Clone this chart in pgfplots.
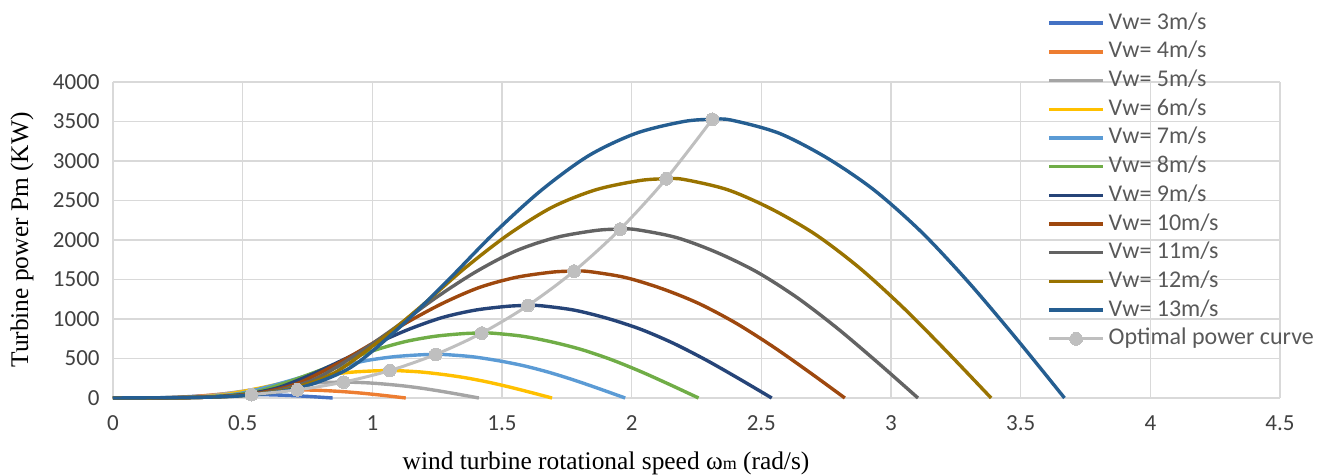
\documentclass[border=0pt]{standalone}
\usepackage{pgfplots}
\pgfplotsset{compat=1.18}
\usepackage{fontspec}
\setmainfont{Liberation Serif}
\newfontfamily\calibri{Carlito}
\definecolor{cA}{HTML}{4472C4}
\definecolor{cB}{HTML}{ED7D31}
\definecolor{cC}{HTML}{A5A5A5}
\definecolor{cD}{HTML}{FFC000}
\definecolor{cE}{HTML}{5B9BD5}
\definecolor{cF}{HTML}{70AD47}
\definecolor{cG}{HTML}{264478}
\definecolor{cH}{HTML}{9E480E}
\definecolor{cI}{HTML}{636363}
\definecolor{cJ}{HTML}{997300}
\definecolor{cK}{HTML}{255E91}
\definecolor{optgray}{HTML}{BFBFBF}
\definecolor{gridgray}{HTML}{D9D9D9}
\definecolor{tickgray}{HTML}{404040}
\definecolor{legendgray}{HTML}{595959}
\pgfplotsset{
  lineimage/.style={legend image code/.code={\draw[##1] (0pt,0pt) -- (27pt,0pt);}},
  optimage/.style={legend image code/.code={\draw[mark repeat=2,mark phase=2,##1] plot coordinates {(0pt,0pt) (13.5pt,0pt) (27pt,0pt)};}},
}
\begin{document}
\begin{tikzpicture}
\useasboundingbox (-56.5pt,-39pt) rectangle (605pt,199pt);
\begin{axis}[
 at={(0pt,0pt)}, anchor=south west,
 scale only axis, width=583.5pt, height=158pt,
 xmin=0, xmax=4.5, ymin=0, ymax=4000,
 xtick={0,0.5,1,1.5,2,2.5,3,3.5,4,4.5},
 ytick={0,500,1000,1500,2000,2500,3000,3500,4000},
 grid=major, grid style={draw=gridgray, line width=0.8pt},
 axis line style={draw=none},
 major tick length=0pt,
 clip=false,
 /pgf/number format/assume math mode=true,
 /pgf/number format/1000 sep={},
 ticklabel style={font=\calibri\fontsize{11.5}{13}\selectfont, text=tickgray},
 yticklabel style={inner xsep=0pt, xshift=-6.5pt},
 xticklabel style={inner ysep=0pt, yshift=-8.5pt},
 xlabel={wind turbine rotational speed ω{\fontsize{9}{10}\selectfont m} (rad/s)},
 ylabel={Turbine power Pm (KW)},
 label style={font=\fontsize{12.7}{14}\selectfont},
 xlabel style={at={(axis description cs:0.4225,-0.2247)}, anchor=base},
 ylabel style={at={(axis description cs:-0.0728,0.5)}, anchor=base},
 legend style={at={(axis description cs:0.8003,1.2329)}, anchor=north west,
   draw=none, fill=none, inner sep=0pt,
   font=\calibri\fontsize{12}{14}\selectfont, text=legendgray,
   nodes={inner sep=0pt, text height=8.5pt, text depth=2.5pt, inner ysep=1.675pt},
   /tikz/every odd column/.append style={column sep=2pt}},
 legend cell align=left,
 lineimage,
 every axis plot/.append style={line width=1.7pt, smooth, mark=none},
]
\addplot[cA] coordinates {(0,0) (0.0847,0.1) (0.1271,0.5) (0.1694,1.7) (0.2118,4.8) (0.2541,10.9) (0.2965,18.0) (0.3388,25.6) (0.3812,32.3) (0.4235,37.8) (0.4659,41.2) (0.5082,43.1) (0.5336,43.4) (0.5506,43.3) (0.5929,41.2) (0.6353,37.4) (0.6776,32.4) (0.72,25.8) (0.7623,17.9) (0.8047,9.1) (0.847,0)};
\addlegendentry{Vw= 3m/s}
\addplot[cB] coordinates {(0,0) (0.1129,0.3) (0.1694,1.2) (0.2258,4.1) (0.2823,11.3) (0.3387,25.7) (0.3952,42.7) (0.4516,60.7) (0.5081,76.6) (0.5645,89.4) (0.621,97.7) (0.6774,102) (0.7113,102.8) (0.7339,102.5) (0.7903,97.7) (0.8468,88.6) (0.9032,76.7) (0.9597,61.1) (1.0161,42.4) (1.0726,21.6) (1.129,0)};
\addlegendentry{Vw= 4m/s}
\addplot[cC] coordinates {(0,0) (0.1411,0.6) (0.2117,2.4) (0.2822,8.0) (0.3528,22.1) (0.4233,50.2) (0.4939,83.3) (0.5644,118.5) (0.635,149.6) (0.7055,174.7) (0.7761,190.8) (0.8466,199.2) (0.8889,200.8) (0.9172,200.2) (0.9877,190.8) (1.0583,173.1) (1.1288,149.8) (1.1994,119.3) (1.2699,82.7) (1.3405,42.2) (1.411,0)};
\addlegendentry{Vw= 5m/s}
\addplot[cD] coordinates {(0,0) (0.1693,1.0) (0.254,4.2) (0.3386,13.9) (0.4233,38.2) (0.5079,86.7) (0.5926,144) (0.6772,204.7) (0.7619,258.4) (0.8465,301.8) (0.9312,329.6) (1.0158,344.1) (1.0666,346.9) (1.1005,345.9) (1.1851,329.6) (1.2698,299) (1.3544,258.8) (1.4391,206.1) (1.5237,142.9) (1.6084,72.8) (1.693,0)};
\addlegendentry{Vw= 6m/s}
\addplot[cE] coordinates {(0,0) (0.1975,1.7) (0.2963,6.6) (0.395,22) (0.4938,60.6) (0.5925,137.7) (0.6913,228.6) (0.79,325) (0.8888,410.4) (0.9875,479.3) (1.0863,523.4) (1.185,546.5) (1.2443,550.9) (1.2838,549.2) (1.3825,523.4) (1.4813,474.9) (1.58,411) (1.6788,327.2) (1.7775,227) (1.8763,115.7) (1.975,0)};
\addlegendentry{Vw= 7m/s}
\addplot[cF] coordinates {(0,0) (0.2258,2.5) (0.3387,9.9) (0.4516,32.9) (0.5645,90.5) (0.6774,205.6) (0.7903,341.3) (0.9032,485.2) (1.0161,612.6) (1.129,715.4) (1.2419,781.2) (1.3548,815.7) (1.4225,822.3) (1.4677,819.8) (1.5806,781.2) (1.6935,708.8) (1.8064,613.4) (1.9193,488.4) (2.0322,338.8) (2.1451,172.7) (2.258,0)};
\addlegendentry{Vw= 8m/s}
\addplot[cG] coordinates {(0,0) (0.254,3.5) (0.381,14.1) (0.508,46.8) (0.635,128.8) (0.762,292.8) (0.889,486) (1.016,690.9) (1.143,872.4) (1.27,1018.8) (1.397,1112.5) (1.524,1161.6) (1.6,1171) (1.651,1167.5) (1.778,1112.5) (1.905,1009.4) (2.032,873.6) (2.159,695.6) (2.286,482.5) (2.413,245.9) (2.54,0)};
\addlegendentry{Vw= 9m/s}
\addplot[cH] coordinates {(0,0) (0.2822,4.8) (0.4233,19.3) (0.5644,64.2) (0.7055,176.7) (0.8466,401.5) (0.9877,666.5) (1.1288,947.5) (1.2699,1196.5) (1.411,1397.2) (1.5521,1525.7) (1.6932,1593.2) (1.7779,1606) (1.8343,1601.2) (1.9754,1525.7) (2.1165,1384.4) (2.2576,1198.1) (2.3987,954) (2.5398,661.7) (2.6809,337.3) (2.822,0)};
\addlegendentry{Vw= 10m/s}
\addplot[cI] coordinates {(0,0) (0.3104,6.4) (0.4656,25.7) (0.6208,85.5) (0.776,235.2) (0.9312,534.5) (1.0864,887.3) (1.2416,1261.4) (1.3968,1592.8) (1.552,1860.1) (1.7072,2031.1) (1.8624,2120.9) (1.9555,2138) (2.0176,2131.6) (2.1728,2031.1) (2.328,1843) (2.4832,1595) (2.6384,1270) (2.7936,880.9) (2.9488,449) (3.104,0)};
\addlegendentry{Vw= 11m/s}
\addplot[cJ] coordinates {(0,0) (0.3386,8.3) (0.5079,33.3) (0.6772,111) (0.8465,305.3) (1.0158,693.8) (1.1851,1151.6) (1.3544,1637.3) (1.5237,2067.4) (1.693,2414.3) (1.8623,2636.3) (2.0316,2752.8) (2.1332,2775) (2.2009,2766.7) (2.3702,2636) (2.5395,2392) (2.7088,2070) (2.8781,1648) (3.0474,1143) (3.2167,582.8) (3.386,0)};
\addlegendentry{Vw= 12m/s}
\addplot[cK] coordinates {(0,0) (0.367,10.6) (0.550,42.3) (0.734,141.1) (0.917,388) (1.101,882) (1.284,1464) (1.468,2082) (1.651,2628) (1.835,3069) (2.018,3352) (2.201,3500) (2.311,3528) (2.385,3517) (2.568,3352) (2.752,3041) (2.935,2632) (3.119,2096) (3.302,1454) (3.486,741) (3.669,0)};
\addlegendentry{Vw= 13m/s}
\addplot[optgray, line width=1.5pt, mark=*, mark size=3.2pt, mark options={fill=optgray, draw=optgray, line width=0pt}, optimage]
  coordinates {(0.534,43) (0.711,103) (0.889,201) (1.067,347) (1.244,551) (1.422,822) (1.600,1171) (1.778,1606) (1.956,2138) (2.133,2775) (2.311,3528)};
\addlegendentry{Optimal power curve}
\end{axis}
\end{tikzpicture}
\end{document}
